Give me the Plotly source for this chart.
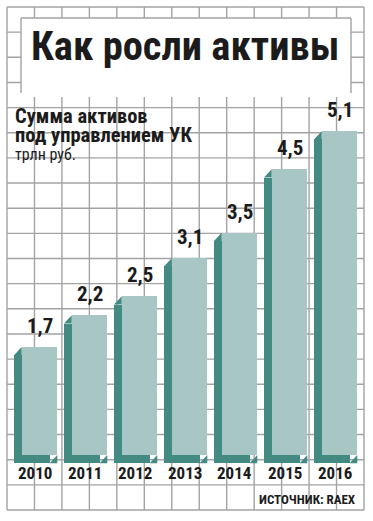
import plotly.graph_objects as go

years = [2010, 2011, 2012, 2013, 2014, 2015, 2016]
values = [1.7, 2.2, 2.5, 3.1, 3.5, 4.5, 5.1]
value_labels = ["1,7", "2,2", "2,5", "3,1", "3,5", "4,5", "5,1"]
year_labels = ["2010", "2011", "2012", "2013", "2014", "2015", "2016"]

title = "Как росли активы"
subtitle1 = "Сумма активов"
subtitle2 = "под управлением УК"
unit = "трлн руб."
source = "ИСТОЧНИК: RAEX"

LIGHT = "#a8c7c4"
DARK = "#438a82"
GRID = "#a3a3a3"
TXT = "#1b1b1b"

W, H = 373, 521
ML, MR, MT, MB = 7, 9, 7, 11
PW, PH = W - ML - MR, H - MT - MB

BW = 0.712   # front face width (years)
DX = 0.154   # extrusion left shift
DY = 0.13    # extrusion down shift


def px(x):
    return (x - ML) / PW


def py(y):
    return 1 - (y - MT) / PH


fig = go.Figure()

# back (dark) extrusion
fig.add_trace(go.Bar(x=[y - DX for y in years], y=values, base=-DY, width=BW,
                     marker=dict(color=DARK, line=dict(width=0)), hoverinfo="skip"))
# corner triangles of extrusion
tx, ty = [], []
for yr, v in zip(years, values):
    l, r = yr - BW / 2, yr + BW / 2
    tx += [l - DX, l, l, l - DX, None]
    ty += [v - DY, v, v - DY, v - DY, None]
    tx += [r, r - DX, r, r, None]
    ty += [0, -DY, -DY, 0, None]
fig.add_trace(go.Scatter(x=tx, y=ty, fill="toself", fillcolor=DARK, mode="lines",
                         line=dict(width=0, color=DARK), hoverinfo="skip"))
# front face
fig.add_trace(go.Bar(x=years, y=values, width=BW,
                     marker=dict(color=LIGHT, line=dict(width=0)), hoverinfo="skip"))

shapes = []
for k in range(14):
    shapes.append(dict(type="line", xref="paper", yref="paper", x0=k / 13, x1=k / 13,
                       y0=0, y1=1, line=dict(color=GRID, width=1.4), layer="between"))
for k in range(21):
    shapes.append(dict(type="line", xref="paper", yref="paper", x0=0, x1=1,
                       y0=k / 20, y1=k / 20, line=dict(color=GRID, width=1.4), layer="between"))
# title box
shapes.append(dict(type="rect", xref="paper", yref="paper", x0=px(21), x1=px(351),
                   y0=py(97), y1=py(18), fillcolor="white", line=dict(width=0), layer="between"))
for (xa, ya, xb, yb) in [(21, 93, 21, 18), (21, 18, 351, 18), (351, 18, 351, 93)]:
    shapes.append(dict(type="line", xref="paper", yref="paper", x0=px(xa), y0=py(ya),
                       x1=px(xb), y1=py(yb), line=dict(color=GRID, width=1.4), layer="between"))

ann = []
FONT = "Roboto Condensed, Roboto"
ann.append(dict(text=title, xref="paper", yref="paper", x=px(185), y=py(46),
                xanchor="center", yanchor="middle", showarrow=False,
                font=dict(family=FONT, size=40.5, weight=700, color=TXT)))
ann.append(dict(text=subtitle1, xref="paper", yref="paper", x=px(13), y=py(130),
                xanchor="left", yanchor="bottom", showarrow=False,
                font=dict(family=FONT, size=20.5, weight=700, color=TXT)))
ann.append(dict(text=subtitle2, xref="paper", yref="paper", x=px(13), y=py(149),
                xanchor="left", yanchor="bottom", showarrow=False,
                font=dict(family=FONT, size=20.5, weight=700, color=TXT)))
ann.append(dict(text=unit, xref="paper", yref="paper", x=px(13), y=py(166),
                xanchor="left", yanchor="bottom", showarrow=False,
                font=dict(family=FONT, size=16, weight=400, color=TXT)))
ann.append(dict(text=source, xref="paper", yref="paper", x=px(358), y=py(499),
                xanchor="right", yanchor="middle", showarrow=False,
                font=dict(family=FONT, size=13, weight=700, color=TXT)))
for yr, v, lab, ylab in zip(years, values, value_labels, year_labels):
    ann.append(dict(text=lab, x=yr, y=v, xref="x", yref="y", xanchor="center",
                    yanchor="bottom", yshift=7, showarrow=False,
                    font=dict(family=FONT, size=21, weight=700, color=TXT)))
    ann.append(dict(text=ylab, x=yr - 0.1, y=0, xref="x", yref="y", xanchor="center",
                    yanchor="middle", yshift=-18, showarrow=False,
                    font=dict(family=FONT, size=17, weight=700, color=TXT)))

x_lo = 2010 + (ML - 39.5) / 50
x_hi = 2010 + (W - MR - 39.5) / 50
y_hi = (455 - MT) / 63.5
y_lo = (455 - (H - MB)) / 63.5

fig.update_layout(
    width=W, height=H, margin=dict(l=ML, r=MR, t=MT, b=MB, pad=0),
    paper_bgcolor="white", plot_bgcolor="rgba(0,0,0,0)", showlegend=False,
    barmode="overlay", bargap=0,
    xaxis=dict(range=[x_lo, x_hi], visible=False, fixedrange=True),
    yaxis=dict(range=[y_lo, y_hi], visible=False, fixedrange=True),
    shapes=shapes, annotations=ann,
)

fig.write_html("out.html", config={"displayModeBar": False},
               post_script="document.body.style.margin='0';")
